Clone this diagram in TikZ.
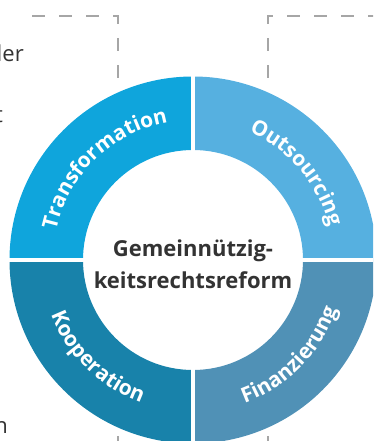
\documentclass[tikz,border=0pt]{standalone}
\usepackage{fontspec}
\setmainfont{Open Sans}
\usepackage{tikz}
\usetikzlibrary{decorations.text}

\definecolor{transblue}{RGB}{15,165,220}
\definecolor{outblue}{RGB}{86,176,224}
\definecolor{koopblue}{RGB}{24,130,170}
\definecolor{finblue}{RGB}{80,145,182}
\definecolor{textgray}{RGB}{51,51,51}
\definecolor{dashgray}{RGB}{166,166,166}

\begin{document}
\begin{tikzpicture}[x=1pt,y=1pt,
  link/.style={dashgray, line width=2.6pt, dash pattern=on 13pt off 14pt},
  ringlabel/.style={decorate, decoration={text along path, text align=center,
    text color=white, text={|\bfseries\fontsize{21}{21}\selectfont|#1}}},
  fragment/.style={anchor=base east, inner sep=0pt, text=textgray,
    font=\fontsize{22}{26}\selectfont}]
\useasboundingbox (-193,-181) rectangle (180,260);
\clip (-193,-181) rectangle (180,260);

% ring
\fill[transblue] (180:110) arc (180:90:110) -- (90:183.5) arc (90:180:183.5) -- cycle;
\fill[outblue] (90:110) arc (90:0:110) -- (0:183.5) arc (0:90:183.5) -- cycle;
\fill[koopblue] (180:110) arc (180:270:110) -- (270:183.5) arc (270:180:183.5) -- cycle;
\fill[finblue] (270:110) arc (270:360:110) -- (360:183.5) arc (360:270:183.5) -- cycle;
\draw[white, line width=3.5pt] (-190,0) -- (190,0);
\draw[white, line width=3.5pt] (0,-190) -- (0,190);

\path[ringlabel=Transformation] (174:140) arc (174:94:140);
\path[ringlabel=Outsourcing] (80:140) arc (80:0:140);
\path[ringlabel=Kooperation] (185:152) arc (185:266:152);
\path[ringlabel=Finanzierung] (275:152) arc (275:356:152);

\node[align=center, inner sep=0pt, text=textgray,
  font=\bfseries\fontsize{22}{32}\selectfont] (reform) at (0,-4)
  {Gemeinnützig-\\keitsrechtsreform};

% links
\coordinate (topleft) at (-75,182);
\coordinate (topright) at (75,182);
\coordinate (botleft) at (-75,-176);
\coordinate (botright) at (75,-176);
\draw[link] (topleft) -- (-75,244) -- (-165,244);
\draw[link] (topright) -- (75,244) -- (185,244);
\draw[link] (botleft) -- (-75,-200);
\draw[link] (botright) -- (75,-200);

% cut off text
\node[fragment] (der) at (-169,198) {der};
\node[fragment] (tee) at (-190,137) {t};
\node[fragment] (en) at (-185,-173) {n};
\end{tikzpicture}
\end{document}
